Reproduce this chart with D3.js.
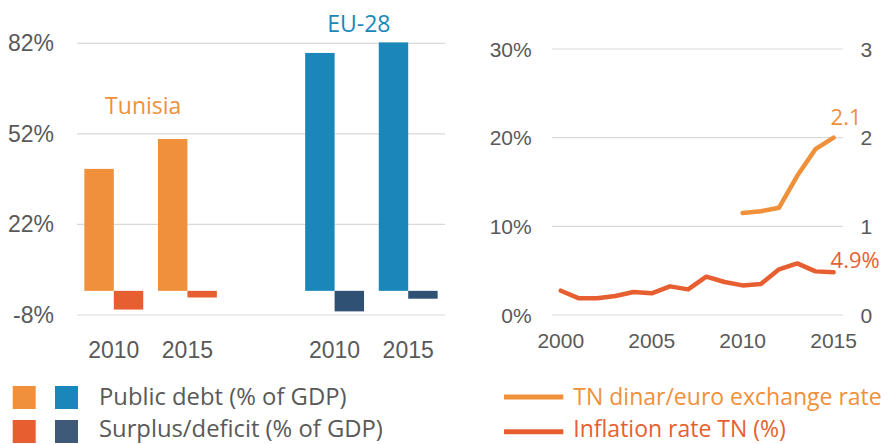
<!DOCTYPE html>
<html>
<head>
<meta charset="utf-8">
<script src="https://cdn.jsdelivr.net/npm/d3@7"></script>
<style>
  body { margin: 0; background: #fff; }
  .tick-label { font-family: "Liberation Sans", Arial, sans-serif; fill: #595959; }
  .soft-label { font-family: "Open Sans", sans-serif; }
  .grid { stroke: #d9d9d9; stroke-width: 1.2; }
</style>
</head>
<body>
<div id="chart"></div>
<script>
// left chart: public debt and surplus/deficit
var barYears = ["2010", "2015"];
var barSlots = ["TN 2010", "TN 2015", "gap", "EU 2010", "EU 2015"];
var tunisiaDebt = [40.4, 50.3];
var tunisiaBalance = [-6.2, -2.2];
var euDebt = [78.8, 82.3];
var euBalance = [-6.8, -2.6];
var barTicks = [-8, 22, 52, 82];

// right chart: inflation and exchange rate
var lineYears = d3.range(2000, 2016);
var inflation = [2.74, 1.88, 1.9, 2.14, 2.59, 2.44, 3.23, 2.89, 4.32, 3.72, 3.34, 3.49, 5.15, 5.82, 4.92, 4.81];
var exchangeYears = [2010, 2011, 2012, 2013, 2014, 2015];
var exchangeRate = [1.15, 1.17, 1.21, 1.57, 1.87, 2.0];
var pctTicks = [0, 10, 20, 30];
var rateTicks = [0, 1, 2, 3];
var yearTicks = [2000, 2005, 2010, 2015];

var colors = {
  tnDebt: "#f0903a",
  tnBalance: "#e75f30",
  euDebt: "#1a87ba",
  euBalance: "#2f5174",
  legendNavy: "#3f5a78",
  grid: "#d9d9d9"
};

var svg = d3.select("#chart").append("svg")
  .attr("width", 891)
  .attr("height", 444);

// ---------- left chart ----------
var barX = d3.scaleBand().domain(barSlots).range([77, 445]).paddingInner(0).paddingOuter(0);
var barInner = d3.scaleBand().domain(["debt", "balance"]).range([0, barX.bandwidth()]).paddingOuter(0.25);
var barY = d3.scaleLinear().domain([-8, 82]).range([315, 43.3]);

svg.append("g")
  .selectAll("line")
  .data(barTicks)
  .enter()
  .append("line")
  .attr("class", "grid")
  .attr("x1", 77)
  .attr("x2", 445)
  .attr("y1", function (d) { return barY(d); })
  .attr("y2", function (d) { return barY(d); });

svg.append("g")
  .selectAll("text")
  .data(barTicks)
  .enter()
  .append("text")
  .attr("class", "tick-label")
  .attr("font-size", 23)
  .attr("text-anchor", "end")
  .attr("dominant-baseline", "central")
  .attr("x", 54)
  .attr("y", function (d) { return barY(d); })
  .text(function (d) { return d + "%"; });

var barRows = [];
barYears.forEach(function (yr, i) {
  barRows.push({ slot: "TN " + yr, key: "debt", value: tunisiaDebt[i], color: colors.tnDebt });
  barRows.push({ slot: "TN " + yr, key: "balance", value: tunisiaBalance[i], color: colors.tnBalance });
  barRows.push({ slot: "EU " + yr, key: "debt", value: euDebt[i], color: colors.euDebt });
  barRows.push({ slot: "EU " + yr, key: "balance", value: euBalance[i], color: colors.euBalance });
});

svg.append("g")
  .selectAll("rect")
  .data(barRows)
  .enter()
  .append("rect")
  .attr("x", function (d) { return barX(d.slot) + barInner(d.key); })
  .attr("width", barInner.bandwidth())
  .attr("y", function (d) { return barY(Math.max(0, d.value)); })
  .attr("height", function (d) { return Math.abs(barY(d.value) - barY(0)); })
  .attr("fill", function (d) { return d.color; });

svg.append("g")
  .selectAll("text")
  .data(barSlots.filter(function (s) { return s !== "gap"; }))
  .enter()
  .append("text")
  .attr("class", "tick-label")
  .attr("font-size", 23)
  .attr("text-anchor", "middle")
  .attr("x", function (d) { return barX(d) + barX.bandwidth() / 2; })
  .attr("y", 358)
  .text(function (d) { return d.split(" ")[1]; });

svg.append("text")
  .attr("class", "soft-label")
  .attr("font-size", 23)
  .attr("fill", colors.tnDebt)
  .attr("text-anchor", "middle")
  .attr("x", barX("TN 2010") + barX.bandwidth() * 0.9)
  .attr("y", 114)
  .text("Tunisia");

svg.append("text")
  .attr("class", "soft-label")
  .attr("font-size", 23)
  .attr("fill", colors.euDebt)
  .attr("text-anchor", "middle")
  .attr("x", barX("EU 2010") + barX.bandwidth() * 0.83)
  .attr("y", 32)
  .text("EU-28");

// ---------- right chart ----------
var lineX = d3.scalePoint().domain(lineYears).range([551.7, 842.7]).padding(0.5);
var pctY = d3.scaleLinear().domain([0, 30]).range([315, 49]);
var rateY = d3.scaleLinear().domain([0, 3]).range([315, 49]);

svg.append("g")
  .selectAll("line")
  .data(pctTicks)
  .enter()
  .append("line")
  .attr("class", "grid")
  .attr("x1", 551.7)
  .attr("x2", 842.7)
  .attr("y1", function (d) { return pctY(d); })
  .attr("y2", function (d) { return pctY(d); });

svg.append("g")
  .selectAll("text")
  .data(pctTicks)
  .enter()
  .append("text")
  .attr("class", "tick-label")
  .attr("font-size", 21)
  .attr("text-anchor", "end")
  .attr("dominant-baseline", "central")
  .attr("x", 531.7)
  .attr("y", function (d) { return pctY(d); })
  .text(function (d) { return d + "%"; });

svg.append("g")
  .selectAll("text")
  .data(rateTicks)
  .enter()
  .append("text")
  .attr("class", "tick-label")
  .attr("font-size", 21)
  .attr("text-anchor", "start")
  .attr("dominant-baseline", "central")
  .attr("x", 860.5)
  .attr("y", function (d) { return rateY(d); })
  .text(function (d) { return d; });

svg.append("g")
  .selectAll("text")
  .data(yearTicks)
  .enter()
  .append("text")
  .attr("class", "tick-label")
  .attr("font-size", 21)
  .attr("text-anchor", "middle")
  .attr("x", function (d) { return lineX(d); })
  .attr("y", 347.5)
  .text(function (d) { return d; });

var inflationLine = d3.line()
  .x(function (d, i) { return lineX(lineYears[i]); })
  .y(function (d) { return pctY(d); });

var rateLine = d3.line()
  .x(function (d, i) { return lineX(exchangeYears[i]); })
  .y(function (d) { return rateY(d); });

svg.append("path")
  .datum(inflation)
  .attr("d", inflationLine)
  .attr("fill", "none")
  .attr("stroke", colors.tnBalance)
  .attr("stroke-width", 4.5)
  .attr("stroke-linecap", "round")
  .attr("stroke-linejoin", "round");

svg.append("path")
  .datum(exchangeRate)
  .attr("d", rateLine)
  .attr("fill", "none")
  .attr("stroke", colors.tnDebt)
  .attr("stroke-width", 4.5)
  .attr("stroke-linecap", "round")
  .attr("stroke-linejoin", "round");

svg.append("text")
  .attr("class", "soft-label")
  .attr("font-size", 22)
  .attr("fill", colors.tnDebt)
  .attr("x", lineX(2015) - 3)
  .attr("y", 124.5)
  .text("2.1");

svg.append("text")
  .attr("class", "soft-label")
  .attr("font-size", 22)
  .attr("fill", colors.tnBalance)
  .attr("x", lineX(2015) - 3)
  .attr("y", 267.7)
  .text("4.9%");

// ---------- legends ----------
var barLegend = [
  { label: "Public debt (% of GDP)", colors: [colors.tnDebt, colors.euDebt] },
  { label: "Surplus/deficit (% of GDP)", colors: [colors.tnBalance, colors.legendNavy] }
];

var barLegendRows = svg.append("g")
  .selectAll("g")
  .data(barLegend)
  .enter()
  .append("g")
  .attr("transform", function (d, i) { return "translate(0," + (386 + i * 34) + ")"; });

barLegendRows.selectAll("rect")
  .data(function (d) { return d.colors; })
  .enter()
  .append("rect")
  .attr("x", function (d, i) { return 12.7 + i * 42.3; })
  .attr("y", 0)
  .attr("width", 23)
  .attr("height", 23)
  .attr("fill", function (d) { return d; });

// second row sits on the bottom edge, nudge it up so descenders stay in view
barLegendRows.append("text")
  .attr("class", "soft-label")
  .attr("font-size", 23.8)
  .attr("fill", "#595959")
  .attr("x", 99)
  .attr("y", function (d, i) { return 19 - i * 2; })
  .text(function (d) { return d.label; });

var lineLegend = [
  { label: "TN dinar/euro exchange rate", color: colors.tnDebt },
  { label: "Inflation rate TN (%)", color: colors.tnBalance }
];

var lineLegendRows = svg.append("g")
  .selectAll("g")
  .data(lineLegend)
  .enter()
  .append("g")
  .attr("transform", function (d, i) { return "translate(0," + (397 + i * 34.7) + ")"; });

lineLegendRows.append("line")
  .attr("x1", 504)
  .attr("x2", 563.3)
  .attr("y1", 0)
  .attr("y2", 0)
  .attr("stroke", function (d) { return d.color; })
  .attr("stroke-width", 5);

lineLegendRows.append("text")
  .attr("class", "soft-label")
  .attr("font-size", 23)
  .attr("fill", function (d) { return d.color; })
  .attr("x", 573.3)
  .attr("y", function (d, i) { return 7.5 - i * 2; })
  .text(function (d) { return d.label; });
</script>
</body>
</html>
